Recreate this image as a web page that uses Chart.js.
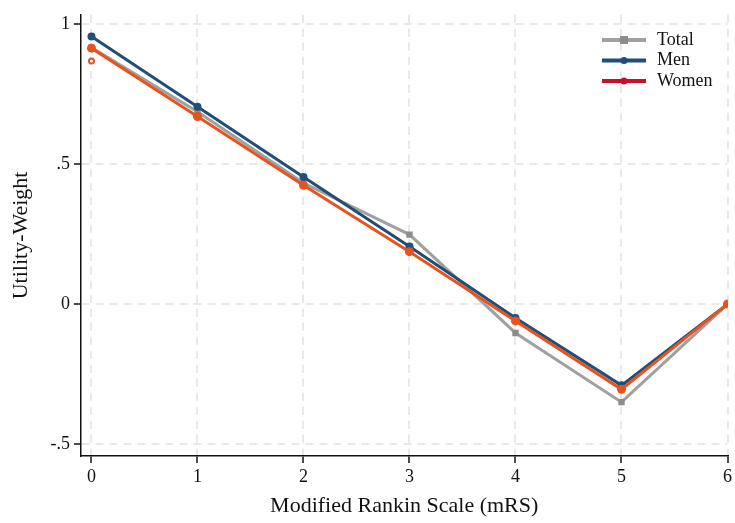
<!DOCTYPE html>
<html lang="en">
<head>
<meta charset="UTF-8">
<title>Utility-Weight by mRS</title>
<script src="https://cdn.jsdelivr.net/npm/chart.js@4.4.1/dist/chart.umd.min.js"></script>
<style>
  html, body { margin: 0; padding: 0; background: #fff; }
  #wrap { width: 735px; height: 523px; }
</style>
</head>
<body>
<div id="wrap"><canvas id="myChart" width="735" height="523"></canvas></div>
<script>
// values
const mrs = [0, 1, 2, 3, 4, 5, 6];
const total = [0.915, 0.686, 0.432, 0.248, -0.103, -0.350, 0];
const men = [0.955, 0.704, 0.453, 0.205, -0.050, -0.290, 0];
const women = [0.913, 0.669, 0.424, 0.187, -0.060, -0.304, 0];
const extraX = [0];
const extraY = [0.867];
const yTicks = [-0.5, 0, 0.5, 1];
const yTickLabels = ["-.5", "0", ".5", "1"];

const toPts = (xs, ys) => xs.map((x, i) => ({ x: x, y: ys[i] }));
const serif = "'Liberation Serif', 'DejaVu Serif', serif";

// legend drawn by hand: line with marker, like the original
const legendPlugin = {
  id: 'lineLegend',
  afterDraw(chart) {
    const ctx = chart.ctx;
    const items = [
      { label: 'Total', color: '#a0a0a0', square: true },
      { label: 'Men', color: '#1f4e79', square: false },
      { label: 'Women', color: '#c8102e', square: false }
    ];
    ctx.save();
    ctx.font = "18px " + serif;
    ctx.textBaseline = 'middle';
    items.forEach((it, i) => {
      const y = 40 + i * 20.5;
      ctx.strokeStyle = it.color;
      ctx.lineWidth = 4;
      ctx.beginPath();
      ctx.moveTo(602, y);
      ctx.lineTo(646, y);
      ctx.stroke();
      ctx.fillStyle = it.color;
      if (it.square) {
        ctx.fillStyle = '#8c8c8c';
        ctx.fillRect(620, y - 4, 8, 8);
      } else {
        ctx.beginPath();
        ctx.arc(624, y, 3.5, 0, Math.PI * 2);
        ctx.fill();
      }
      ctx.fillStyle = '#111';
      ctx.fillText(it.label, 657, y);
    });
    ctx.restore();
  }
};

const gridOpts = {
  color: '#e8e8e8',
  lineWidth: 2,
  tickColor: '#111',
  tickLength: 7,
  tickWidth: 1.5,
  tickBorderDash: []
};
const borderOpts = { color: '#111', width: 1.5, dash: [8, 6] };

const ctx = document.getElementById('myChart').getContext('2d');
new Chart(ctx, {
  type: 'line',
  data: {
    datasets: [
      {
        label: 'Total',
        data: toPts(mrs, total),
        borderColor: '#a0a0a0',
        backgroundColor: '#8c8c8c',
        borderWidth: 3,
        pointStyle: 'rect',
        pointRadius: 4.5,
        pointBorderWidth: 0,
        order: 3
      },
      {
        label: 'Men',
        data: toPts(mrs, men),
        borderColor: '#1f4e79',
        backgroundColor: '#1f4e79',
        borderWidth: 3,
        pointRadius: 4,
        pointBorderWidth: 0,
        order: 2
      },
      {
        label: 'Women',
        data: toPts(mrs, women),
        borderColor: '#e8521f',
        backgroundColor: '#e8521f',
        borderWidth: 3,
        pointRadius: 4.5,
        pointBorderWidth: 0,
        order: 1
      },
      {
        label: 'extra',
        data: toPts(extraX, extraY),
        showLine: false,
        borderColor: '#e8521f',
        backgroundColor: '#ffffff',
        pointRadius: 2.5,
        pointBorderWidth: 2,
        order: 0
      }
    ]
  },
  options: {
    responsive: false,
    animation: false,
    layout: { padding: { top: 0, right: 0, left: 8, bottom: 4 } },
    plugins: {
      legend: { display: false },
      tooltip: { enabled: false }
    },
    scales: {
      x: {
        type: 'linear',
        min: -0.1,
        max: 6.0,
        afterBuildTicks: (axis) => { axis.ticks = mrs.map(v => ({ value: v })); },
        ticks: {
          color: '#111',
          font: { family: serif, size: 18 },
          padding: 3,
          maxRotation: 0
        },
        grid: gridOpts,
        border: borderOpts,
        title: {
          display: true,
          text: 'Modified Rankin Scale (mRS)',
          color: '#111',
          font: { family: serif, size: 22 },
          padding: { top: 2, bottom: 0 }
        }
      },
      y: {
        type: 'linear',
        min: -0.542,
        max: 1.032,
        afterBuildTicks: (axis) => { axis.ticks = yTicks.map(v => ({ value: v })); },
        ticks: {
          color: '#111',
          font: { family: serif, size: 18 },
          padding: 4,
          callback: (v) => yTickLabels[yTicks.indexOf(v)]
        },
        grid: gridOpts,
        border: borderOpts,
        title: {
          display: true,
          text: 'Utility-Weight',
          color: '#111',
          font: { family: serif, size: 22 },
          padding: { top: 0, bottom: 12 }
        }
      }
    }
  },
  plugins: [legendPlugin]
});
</script>
</body>
</html>
